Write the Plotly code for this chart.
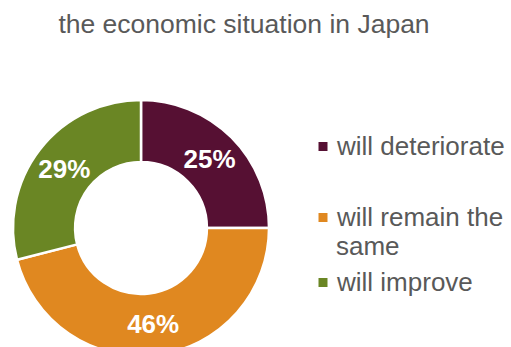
import textwrap
import plotly.graph_objects as go

# Survey outcome: expectations for the economic situation in Japan
categories = ["will deteriorate", "will remain the same", "will improve"]
shares = [25, 46, 29]
colors = ["#561033", "#E08820", "#6A8624"]
title_text = "the economic situation in Japan"

W, H = 511, 360
TEXT_GREY = "#595959"
FONT = "Liberation Sans, Arial, sans-serif"


def px_x(x):
    return x / W


def px_y(y):
    return 1 - y / H


# donut placement in pixels (centre and outer radius)
cx, cy, r = 141, 228, 128

fig = go.Figure(
    go.Pie(
        labels=categories,
        values=shares,
        sort=False,
        direction="clockwise",
        rotation=0,
        hole=0.515,
        marker=dict(colors=colors, line=dict(color="white", width=2.5)),
        texttemplate="%{value}%",
        textposition="inside",
        insidetextorientation="horizontal",
        textfont=dict(family=FONT, size=26, color="white", weight="bold"),
        hoverinfo="skip",
        showlegend=False,
        domain=dict(x=[px_x(cx - r), px_x(cx + r)], y=[px_y(cy + r), px_y(cy - r)]),
    )
)

# legend drawn beside the donut: coloured square + wrapped label
legend_baselines = [155, 226, 291]
line_gap = 29
LEG_SIZE = 26
shapes, annotations = [], []
for name, col, base in zip(categories, colors, legend_baselines):
    sq = base - 8.5
    shapes.append(dict(
        type="rect", xref="paper", yref="paper",
        x0=px_x(318.5), x1=px_x(327.5), y0=px_y(sq + 4.5), y1=px_y(sq - 4.5),
        fillcolor=col, line=dict(width=0),
    ))
    for i, line in enumerate(textwrap.wrap(name, 16)):
        b = base + i * line_gap
        annotations.append(dict(
            text=line, xref="paper", yref="paper",
            x=px_x(333.5), y=px_y(b - 0.35 * LEG_SIZE),
            xanchor="left", yanchor="middle", showarrow=False,
            font=dict(family=FONT, size=LEG_SIZE, color=TEXT_GREY),
        ))

fig.update_layout(
    width=W, height=H,
    margin=dict(l=0, r=0, t=0, b=0),
    paper_bgcolor="white", plot_bgcolor="white",
    title=dict(
        text=title_text, x=244 / W, xanchor="center",
        y=1 - (33 - 0.35 * 26.5) / H, yanchor="middle", yref="container",
        font=dict(family=FONT, size=26.5, color=TEXT_GREY),
    ),
    shapes=shapes,
    annotations=annotations,
)

fig.write_html(
    "out.html",
    post_script="document.documentElement.style.overflow='hidden';document.body.style.overflow='hidden';",
)
